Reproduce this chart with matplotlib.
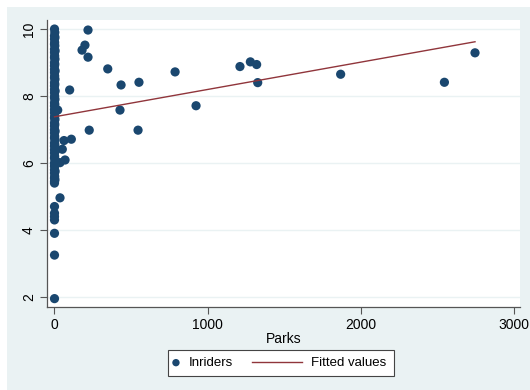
import matplotlib
matplotlib.use("Agg")
import matplotlib.pyplot as plt
import matplotlib.patches as patches
import numpy as np

plt.rcParams['font.family'] = ['Liberation Sans', 'DejaVu Sans']

# points sitting on (or very near) parks = 0
zero_y = [10.0, 9.9, 9.8, 9.75, 9.7, 9.6, 9.55, 9.5, 9.4, 9.35, 9.3, 9.2, 9.15,
          9.1, 9.0, 8.95, 8.9, 8.8, 8.75, 8.7, 8.6, 8.55, 8.5, 8.4, 8.35, 8.3,
          8.2, 8.15, 8.1, 8.0, 7.95, 7.9, 7.8, 7.75, 7.7, 7.6, 7.55, 7.5, 7.4,
          7.35, 7.3, 7.2, 7.15, 7.1, 7.0, 6.95, 6.9, 6.8, 6.75, 6.7, 6.6, 6.55,
          6.5, 6.4, 6.35, 6.3, 6.2, 6.15, 6.1, 6.0, 5.95, 5.9, 5.8, 5.75, 5.7,
          5.6, 5.55, 5.5, 5.45, 5.4, 4.7, 4.5, 4.4, 4.3, 3.9, 3.25, 1.95]
zero_x = [0, 2, 0, 3, 0, 1, 0, 2, 0, 4, 0, 1, 0, 3, 0, 2, 0, 0, 4, 0, 1, 0, 3,
          0, 2, 0, 0, 4, 0, 1, 0, 3, 0, 2, 0, 0, 4, 0, 1, 0, 3, 0, 2, 0, 0, 4,
          0, 1, 0, 3, 0, 2, 0, 0, 4, 0, 1, 0, 3, 0, 2, 0, 0, 4, 0, 1, 0, 3, 0,
          0, 0, 0, 0, 0, 0, 0, 0]

# remaining districts
parks = [21, 36, 36, 51, 62, 69, 99, 110, 180, 199, 219, 219, 227, 348, 428,
         435, 546, 552, 788, 925, 1212, 1280, 1321, 1328, 1870, 2548, 2748]
inriders = [7.58, 6.01, 4.96, 6.41, 6.67, 6.09, 8.18, 6.71, 9.37, 9.52, 9.97,
            9.16, 6.98, 8.81, 7.58, 8.33, 6.98, 8.41, 8.72, 7.71, 8.88, 9.02,
            8.94, 8.40, 8.65, 8.41, 9.29]

# linear fit
fit_x = [0, 2748]
fit_y = [7.38, 9.62]

navy = '#1a476f'
maroon = '#90353b'
bg = '#eaf2f3'

fig = plt.figure(figsize=(5.3, 3.9), dpi=100, facecolor='white')
fig.patches.append(patches.Rectangle((7 / 530, 0), 1, 1 - 7 / 390,
                                     transform=fig.transFigure,
                                     facecolor=bg, edgecolor='none', zorder=-10))

ax = fig.add_axes([47 / 530, 1 - 307 / 390, (520 - 47) / 530, (307 - 20) / 390])
ax.set_facecolor('white')

xs = zero_x + parks
ys = zero_y + inriders
sc = ax.scatter(xs, ys, s=44, color=navy, edgecolors='none', zorder=3, label='Inriders')
ln, = ax.plot(fit_x, fit_y, color=maroon, lw=1.0, zorder=4, label='Fitted values')

ax.set_xlim(-49, 3042)
ax.set_ylim(1.70, 10.27)
ax.set_xticks([0, 1000, 2000, 3000])
ax.set_yticks([2, 4, 6, 8, 10])
for yv in [2, 4, 6, 8, 10]:
    ax.axhline(yv, color=bg, lw=1.0, zorder=1)

for side in ['top', 'right']:
    ax.spines[side].set_visible(False)
for side in ['left', 'bottom']:
    ax.spines[side].set_color('#555555')
    ax.spines[side].set_linewidth(0.9)
ax.tick_params(colors='#555555', labelcolor='black', length=5, width=0.8,
               labelsize=10, pad=3)
for lab in ax.get_yticklabels():
    lab.set_rotation(90)
    lab.set_va('center')

ax.set_xlabel('Parks', fontsize=10, labelpad=0)

# legend: one frame, two entries with different handle lengths
ly = 1 - 363 / 390
fig.patches.append(patches.Rectangle((168 / 530, 1 - 376 / 390), 226 / 530, 26 / 390,
                                     transform=fig.transFigure, facecolor='white',
                                     edgecolor='#444444', lw=0.8, zorder=5))
common = dict(fontsize=9.5, frameon=False, borderpad=0, borderaxespad=0,
              handletextpad=0.68, loc='center left')
leg1 = fig.legend([sc], ['Inriders'], bbox_to_anchor=(172 / 530, ly),
                  handlelength=0.6, scatterpoints=1, markerscale=0.8, **common)
leg2 = fig.legend([ln], ['Fitted values'], bbox_to_anchor=(252 / 530, ly),
                  handlelength=3.8, **common)
leg1.set_zorder(6)
leg2.set_zorder(6)

fig.savefig('out.png', dpi=100, facecolor=fig.get_facecolor())
